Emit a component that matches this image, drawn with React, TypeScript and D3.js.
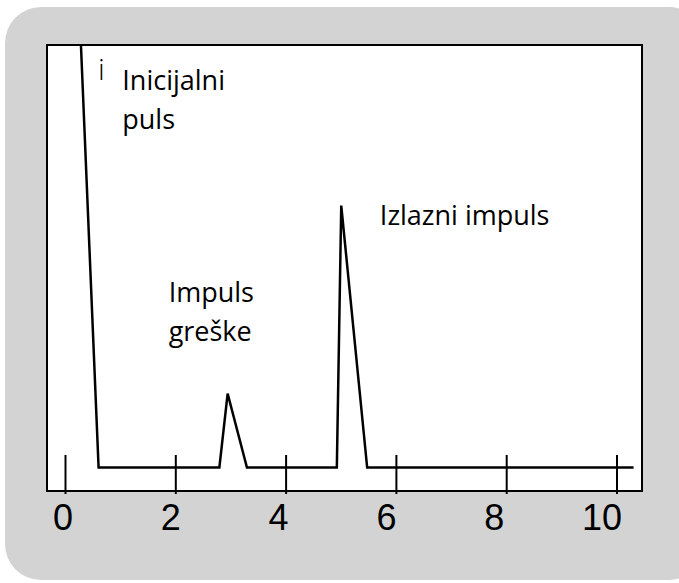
import React, { useEffect, useRef } from 'react'
import * as d3 from 'd3'

// trace points: time (x) and relative amplitude (y)
const traceX = [0.28, 0.6, 2.79, 2.94, 3.29, 4.92, 5.0, 5.47, 10.3]
const traceY = [1.0, 0, 0, 0.175, 0, 0, 0.62, 0, 0]
const tickValues = [0, 2, 4, 6, 8, 10]
const labels = [
    { lines: ['Inicijalni', 'puls'], x: 1.03, y: 0.893 },
    { lines: ['Impuls', 'greške'], x: 1.87, y: 0.392 },
    { lines: ['Izlazni impuls'], x: 5.7, y: 0.574 },
]

const W = 679
const H = 583

export default function App() {
    const ref = useRef<SVGSVGElement>(null)

    useEffect(() => {
        const svg = d3.select(ref.current)
        svg.selectAll('*').remove()

        const x = d3.scaleLinear().domain([0, 10]).range([65.5, 617])
        const y = d3.scaleLinear().domain([0, 1]).range([467.5, 45])
        // tick labels sit a little to the left of their ticks
        const xl = d3.scaleLinear().domain([0, 10]).range([63, 602])

        // background panel
        svg.append('rect')
            .attr('x', 5).attr('y', 7)
            .attr('width', 700).attr('height', 573)
            .attr('rx', 36)
            .attr('fill', '#d3d3d3')

        // plot box
        svg.append('rect')
            .attr('x', 47).attr('y', 45)
            .attr('width', 595).attr('height', 446)
            .attr('fill', '#fff')
            .attr('stroke', '#000')
            .attr('stroke-width', 2)

        // ticks
        svg.selectAll('line.tick')
            .data(tickValues)
            .enter()
            .append('line')
            .attr('x1', (d) => x(d)).attr('x2', (d) => x(d))
            .attr('y1', 455).attr('y2', 494)
            .attr('stroke', '#000')
            .attr('stroke-width', 2)

        svg.selectAll('text.tick')
            .data(tickValues)
            .enter()
            .append('text')
            .attr('x', (d) => xl(d))
            .attr('y', 530)
            .attr('text-anchor', 'middle')
            .attr('font-family', 'Liberation Sans, Arial, sans-serif')
            .attr('font-size', 36)
            .attr('fill', '#000')
            .text((d) => d)

        // trace
        const pts: [number, number][] = traceX.map((d, i) => [d, traceY[i]])
        const line = d3.line<[number, number]>()
            .x((d) => x(d[0]))
            .y((d) => y(d[1]))
        svg.append('path')
            .attr('d', line(pts))
            .attr('fill', 'none')
            .attr('stroke', '#000')
            .attr('stroke-width', 2.5)

        // small mark near the initial pulse
        svg.append('text')
            .attr('x', 98).attr('y', 80)
            .attr('font-family', 'Open Sans, sans-serif')
            .attr('font-size', 30)
            .attr('font-weight', 300)
            .attr('fill', '#000')
            .text('i')

        // annotations
        labels.forEach((l) => {
            const t = svg.append('text')
                .attr('font-family', 'Open Sans, sans-serif')
                .attr('font-size', 27)
                .attr('fill', '#000')
            l.lines.forEach((s, i) => {
                t.append('tspan')
                    .attr('x', x(l.x))
                    .attr('y', y(l.y) + i * 39)
                    .text(s)
            })
        })
    }, [])

    return (
        <svg ref={ref} width={W} height={H} style={{ position: 'absolute', left: 0, top: 0 }} />
    )
}
